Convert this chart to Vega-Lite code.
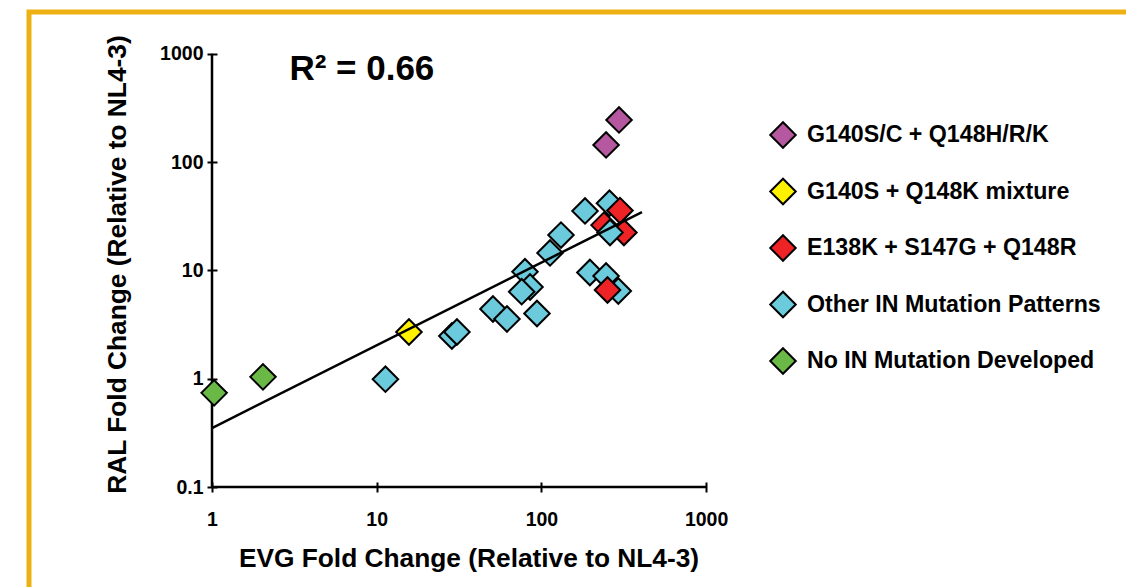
{
  "$schema": "https://vega.github.io/schema/vega-lite/v6.json",
  "width": 1097,
  "height": 575,
  "autosize": {"type": "none"},
  "padding": {"left": 29, "top": 12, "right": 0, "bottom": 0},
  "background": "white",
  "config": {
    "view": {"stroke": "#EDB113", "strokeWidth": 5, "strokeDash": [1097, 1672, 600], "strokeCap": "square"},
    "font": "Liberation Sans",
    "axis": {
      "grid": false, "domain": false, "tickColor": "black", "tickWidth": 2, "tickSize": 10,
      "labelColor": "black", "labelFont": "Liberation Sans", "labelFontWeight": "bold", "labelFontSize": 19.5,
      "labelOverlap": false, "labelFlush": false,
      "titleFont": "Liberation Sans", "titleFontWeight": "bold", "titleFontSize": 26.3, "titleColor": "black"
    }
  },
  "datasets": {
    "points": [
      {"evg": 296, "ral": 245, "group": "G140S/C + Q148H/R/K"},
      {"evg": 247, "ral": 144, "group": "G140S/C + Q148H/R/K"},
      {"evg": 11.3, "ral": 0.99, "group": "Other IN Mutation Patterns"},
      {"evg": 28.6, "ral": 2.48, "group": "Other IN Mutation Patterns"},
      {"evg": 30.7, "ral": 2.70, "group": "Other IN Mutation Patterns"},
      {"evg": 50.8, "ral": 4.40, "group": "Other IN Mutation Patterns"},
      {"evg": 61.8, "ral": 3.56, "group": "Other IN Mutation Patterns"},
      {"evg": 94.0, "ral": 4.00, "group": "Other IN Mutation Patterns"},
      {"evg": 79.5, "ral": 9.73, "group": "Other IN Mutation Patterns"},
      {"evg": 85.3, "ral": 7.03, "group": "Other IN Mutation Patterns"},
      {"evg": 75.9, "ral": 6.36, "group": "Other IN Mutation Patterns"},
      {"evg": 131.5, "ral": 21.2, "group": "Other IN Mutation Patterns"},
      {"evg": 112.8, "ral": 14.5, "group": "Other IN Mutation Patterns"},
      {"evg": 184, "ral": 35.4, "group": "Other IN Mutation Patterns"},
      {"evg": 259, "ral": 41.7, "group": "Other IN Mutation Patterns"},
      {"evg": 240, "ral": 26.2, "group": "E138K + S147G + Q148R"},
      {"evg": 317, "ral": 22.4, "group": "E138K + S147G + Q148R"},
      {"evg": 261, "ral": 22.4, "group": "Other IN Mutation Patterns"},
      {"evg": 300, "ral": 35.7, "group": "E138K + S147G + Q148R"},
      {"evg": 197, "ral": 9.56, "group": "Other IN Mutation Patterns"},
      {"evg": 247, "ral": 8.88, "group": "Other IN Mutation Patterns"},
      {"evg": 293, "ral": 6.45, "group": "Other IN Mutation Patterns"},
      {"evg": 252, "ral": 6.59, "group": "E138K + S147G + Q148R"},
      {"evg": 15.7, "ral": 2.70, "group": "G140S + Q148K mixture"},
      {"evg": 1.03, "ral": 0.74, "group": "No IN Mutation Developed"},
      {"evg": 2.04, "ral": 1.04, "group": "No IN Mutation Developed"}
    ],
    "fit": [
      {"evg": 1, "ral": 0.35},
      {"evg": 408, "ral": 34.6}
    ],
    "axislines": [
      {"evg": 1, "ral": 0.1, "evg2": 1000, "ral2": 0.1},
      {"evg": 1, "ral": 0.1, "evg2": 1, "ral2": 1000}
    ],
    "note": [
      {"evg": 2.95, "ral": 573, "label": "R² = 0.66"}
    ]
  },
  "encoding": {
    "x": {
      "field": "evg", "type": "quantitative",
      "scale": {"type": "log", "domain": [0.077426, 354390], "nice": false, "zero": false},
      "axis": {
        "orient": "bottom", "offset": -105, "values": [1, 10, 100, 1000],
        "labelPadding": 18.5, "labelExpr": "'' + datum.value",
        "title": "EVG Fold Change (Relative to NL4-3)",
        "titleX": 439.5, "titleY": 84.7, "titleBaseline": "alphabetic", "titleAlign": "center"
      }
    },
    "y": {
      "field": "ral", "type": "quantitative",
      "scale": {"type": "log", "domain": [0.01193, 2432.2], "nice": false, "zero": false},
      "axis": {
        "orient": "left", "offset": -188, "values": [0.1, 1, 10, 100, 1000],
        "labelPadding": 4, "labelExpr": "'' + datum.value",
        "title": "RAL Fold Change (Relative to NL4-3)",
        "titleX": -92, "titleY": 252, "titleAngle": -90, "titleBaseline": "alphabetic", "titleAlign": "center"
      }
    }
  },
  "layer": [
    {
      "data": {"name": "axislines"},
      "mark": {"type": "rule", "color": "black", "strokeWidth": 2.5},
      "encoding": {
        "x2": {"field": "evg2"},
        "y2": {"field": "ral2"}
      }
    },
    {
      "data": {"name": "points"},
      "mark": {"type": "point", "shape": "diamond", "filled": true, "size": 650, "stroke": "black", "strokeWidth": 2, "opacity": 1},
      "encoding": {
        "color": {
          "field": "group", "type": "nominal",
          "scale": {
            "domain": ["G140S/C + Q148H/R/K", "G140S + Q148K mixture", "E138K + S147G + Q148R", "Other IN Mutation Patterns", "No IN Mutation Developed"],
            "range": ["#B5589F", "#FFF100", "#EE2326", "#6BCADB", "#6AB845"]
          },
          "legend": {
            "orient": "none", "legendX": 740, "legendY": 109, "title": null,
            "symbolType": "diamond", "symbolSize": 650, "symbolStrokeColor": "black", "symbolStrokeWidth": 2, "symbolOpacity": 1,
            "labelFont": "Liberation Sans", "labelFontWeight": "bold", "labelFontSize": 23.2, "labelColor": "black",
            "rowPadding": 22.5, "labelOffset": 10, "labelLimit": 400
          }
        }
      }
    },
    {
      "data": {"name": "fit"},
      "mark": {"type": "line", "color": "black", "strokeWidth": 2.5}
    },
    {
      "data": {"name": "note"},
      "mark": {"type": "text", "align": "left", "baseline": "alphabetic", "fontSize": 35, "fontWeight": "bold", "color": "black", "font": "Liberation Sans"},
      "encoding": {"text": {"field": "label"}}
    }
  ]
}
